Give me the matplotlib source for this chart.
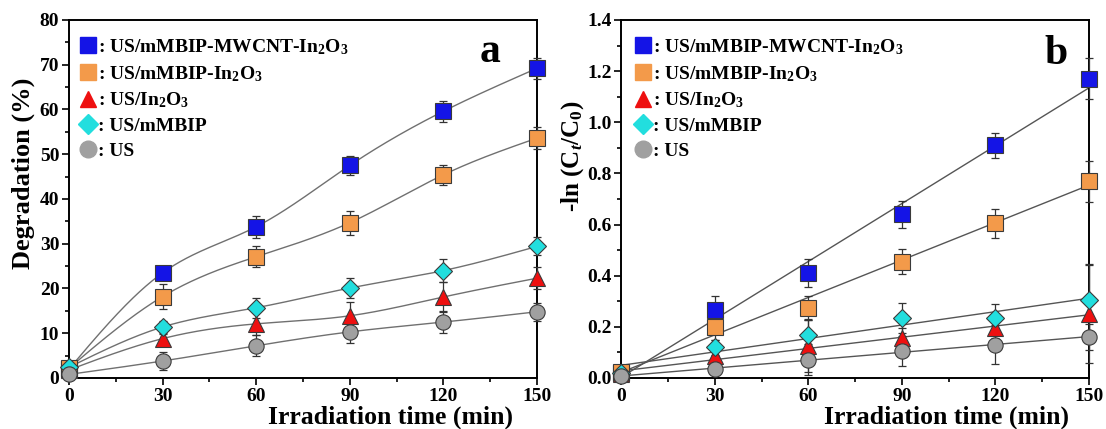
import numpy as np
import matplotlib
matplotlib.use("Agg")
import matplotlib.pyplot as plt
from matplotlib.lines import Line2D
from matplotlib.ticker import MultipleLocator, FormatStrFormatter

plt.rcParams['font.family'] = ['Liberation Serif', 'DejaVu Serif']
plt.rcParams['font.weight'] = 'bold'
plt.rcParams['mathtext.fontset'] = 'custom'
plt.rcParams['mathtext.rm'] = 'Liberation Serif:bold'
plt.rcParams['mathtext.it'] = 'Liberation Serif:italic:bold'
plt.rcParams['mathtext.bf'] = 'Liberation Serif:bold'
plt.rcParams['mathtext.default'] = 'rm'

# ---------------- data ----------------
time = [0, 30, 60, 90, 120, 150]
labels = [": US/mMBIP-MWCNT-In$_2$O$_3$", ": US/mMBIP-In$_2$O$_3$", ": US/In$_2$O$_3$",
          ": US/mMBIP", ": US"]

deg_mwcnt = [2.0, 23.5, 33.8, 47.5, 59.6, 69.2]
deg_mbip_in = [2.2, 18.2, 27.1, 34.7, 45.4, 53.6]
deg_in = [1.8, 8.8, 12.1, 13.9, 18.1, 22.3]
deg_mbip = [2.4, 11.4, 15.7, 20.1, 24.0, 29.4]
deg_us = [0.8, 3.8, 7.2, 10.3, 12.5, 14.8]

err_deg_mwcnt = [0.5, 1.0, 2.5, 2.2, 2.3, 2.3]
err_deg_mbip_in = [0.5, 2.7, 2.3, 2.7, 2.2, 2.5]
err_deg_in = [0.5, 1.0, 2.6, 3.0, 3.3, 2.5]
err_deg_mbip = [0.5, 1.3, 2.2, 2.3, 2.6, 2.0]
err_deg_us = [0.5, 2.0, 2.3, 2.4, 2.4, 2.0]

ln_mwcnt = [0.020, 0.265, 0.410, 0.640, 0.910, 1.170]
ln_mbip_in = [0.025, 0.200, 0.275, 0.455, 0.605, 0.770]
ln_in = [0.015, 0.085, 0.125, 0.155, 0.195, 0.250]
ln_mbip = [0.020, 0.120, 0.170, 0.235, 0.235, 0.305]
ln_us = [0.008, 0.035, 0.072, 0.105, 0.130, 0.160]

err_ln_mwcnt = [0.01, 0.055, 0.055, 0.053, 0.050, 0.080]
err_ln_mbip_in = [0.01, 0.050, 0.045, 0.048, 0.057, 0.080]
err_ln_in = [0.01, 0.030, 0.100, 0.040, 0.040, 0.190]
err_ln_mbip = [0.01, 0.030, 0.055, 0.060, 0.055, 0.140]
err_ln_us = [0.01, 0.020, 0.060, 0.060, 0.077, 0.050]

# ---------------- styles ----------------
colors = ['#1414e6', '#f39a4a', '#ee1010', '#22dede', '#a0a0a0']
markers = ['s', 's', '^', 'D', 'o']
msizes = [11, 11, 11, 9, 11]

deg_series = [deg_mwcnt, deg_mbip_in, deg_in, deg_mbip, deg_us]
deg_errs = [err_deg_mwcnt, err_deg_mbip_in, err_deg_in, err_deg_mbip, err_deg_us]
ln_series = [ln_mwcnt, ln_mbip_in, ln_in, ln_mbip, ln_us]
ln_errs = [err_ln_mwcnt, err_ln_mbip_in, err_ln_in, err_ln_mbip, err_ln_us]


def natural_spline(x, y, n=300):
    x = np.asarray(x, float)
    y = np.asarray(y, float)
    k = len(x)
    h = np.diff(x)
    A = np.zeros((k, k))
    b = np.zeros(k)
    A[0, 0] = 1
    A[-1, -1] = 1
    for i in range(1, k - 1):
        A[i, i - 1] = h[i - 1]
        A[i, i] = 2 * (h[i - 1] + h[i])
        A[i, i + 1] = h[i]
        b[i] = 6 * ((y[i + 1] - y[i]) / h[i] - (y[i] - y[i - 1]) / h[i - 1])
    M = np.linalg.solve(A, b)
    xs = np.linspace(x[0], x[-1], n)
    idx = np.clip(np.searchsorted(x, xs) - 1, 0, k - 2)
    x0, x1 = x[idx], x[idx + 1]
    hh = x1 - x0
    ys = (M[idx] * (x1 - xs) ** 3 / (6 * hh) + M[idx + 1] * (xs - x0) ** 3 / (6 * hh)
          + (y[idx] / hh - M[idx] * hh / 6) * (x1 - xs)
          + (y[idx + 1] / hh - M[idx + 1] * hh / 6) * (xs - x0))
    return xs, ys


fig = plt.figure(figsize=(11.06, 4.29), dpi=100)
ax1 = fig.add_axes([0.0624, 0.1189, 0.4231, 0.8345])
ax2 = fig.add_axes([0.5619, 0.1189, 0.4227, 0.8345])


def style_axes(ax, ymax, ymajor, yminor, yfmt):
    ax.set_xlim(0, 150)
    ax.set_ylim(0, ymax)
    ax.xaxis.set_major_locator(MultipleLocator(30))
    ax.xaxis.set_minor_locator(MultipleLocator(15))
    ax.yaxis.set_major_locator(MultipleLocator(ymajor))
    ax.yaxis.set_minor_locator(MultipleLocator(yminor))
    ax.tick_params(which='both', direction='out', top=False, right=False,
                   labelsize=14, width=1.2, pad=2)
    ax.tick_params(which='major', length=5)
    ax.tick_params(which='minor', length=3)
    ax.yaxis.set_major_formatter(yfmt)
    for s in ax.spines.values():
        s.set_linewidth(1.4)
    for lab in ax.get_xticklabels() + ax.get_yticklabels():
        lab.set_fontweight('bold')


# panel a
for ys, es, c, m, ms in zip(deg_series, deg_errs, colors, markers, msizes):
    xs_s, ys_s = natural_spline(time, ys)
    ax1.plot(xs_s, ys_s, color='#707070', lw=1.0, zorder=2, clip_on=False)
    ax1.errorbar(time, ys, yerr=es, fmt='none', ecolor='#333333', elinewidth=0.9,
                 capsize=3, capthick=0.9, zorder=3, clip_on=False)
    ax1.plot(time, ys, linestyle='none', marker=m, markersize=ms, markerfacecolor=c,
             markeredgecolor='#3a3a3a', markeredgewidth=0.8, zorder=4, clip_on=False)
style_axes(ax1, 80, 10, 5, FormatStrFormatter('%d'))

# panel b
tx = np.array(time, float)
for ys, es, c, m, ms in zip(ln_series, ln_errs, colors, markers, msizes):
    p = np.polyfit(tx, ys, 1)
    ax2.plot([tx[0], tx[-1]], np.polyval(p, [tx[0], tx[-1]]), color='#555555', lw=1.0, zorder=2)
    ax2.errorbar(time, ys, yerr=es, fmt='none', ecolor='#333333', elinewidth=0.9,
                 capsize=3, capthick=0.9, zorder=3, clip_on=False)
    ax2.plot(time, ys, linestyle='none', marker=m, markersize=ms, markerfacecolor=c,
             markeredgecolor='#3a3a3a', markeredgewidth=0.8, zorder=4, clip_on=False)
style_axes(ax2, 1.4, 0.2, 0.1, FormatStrFormatter('%.1f'))

# legends
for ax, anchor in ((ax1, (0.0, 0.99)), (ax2, (0.005, 0.99))):
    handles = [Line2D([], [], linestyle='none', marker=m, markersize=ms + 1,
                      markerfacecolor=c, markeredgecolor=c)
               for c, m, ms in zip(colors, markers, msizes)]
    leg = ax.legend(handles, labels, loc='upper left', bbox_to_anchor=anchor,
                    frameon=False, fontsize=14, handlelength=0.6,
                    handletextpad=0.2, labelspacing=0.36, borderaxespad=0.3)
    for t in leg.get_texts():
        t.set_fontweight('bold')

# panel letters
ax1.text(0.90, 0.91, 'a', transform=ax1.transAxes, fontsize=30, fontweight='bold',
         ha='center', va='center')
ax2.text(0.93, 0.905, 'b', transform=ax2.transAxes, fontsize=30, fontweight='bold',
         ha='center', va='center')

# axis labels
ax1.text(0.688, -0.109, 'Irradiation time (min)', transform=ax1.transAxes,
         fontsize=18.5, fontweight='bold', ha='center', va='center')
ax2.text(0.695, -0.109, 'Irradiation time (min)', transform=ax2.transAxes,
         fontsize=18.5, fontweight='bold', ha='center', va='center')
ax1.text(-0.098, 0.573, 'Degradation (%)', transform=ax1.transAxes, rotation=90,
         fontsize=19, fontweight='bold', ha='center', va='center')
ax2.text(-0.105, 0.62, r'-ln (C$_\mathit{t}$/C$_0$)', transform=ax2.transAxes, rotation=90,
         fontsize=18, fontweight='bold', ha='center', va='center')

fig.savefig('out.png', dpi=100)
